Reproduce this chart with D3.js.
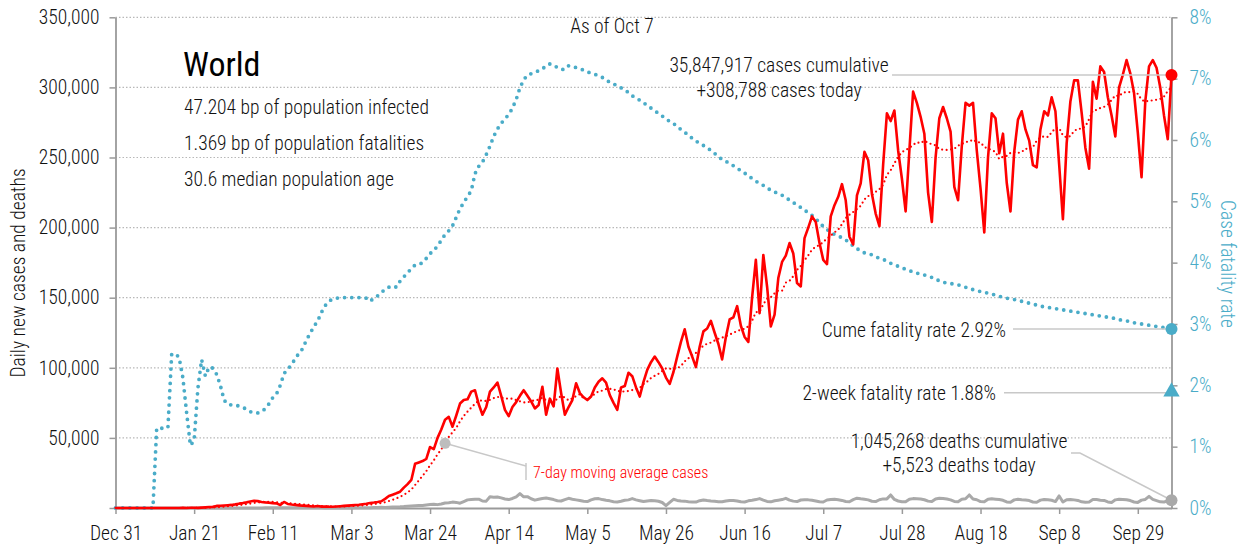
<!DOCTYPE html>
<html>
<head>
<meta charset="utf-8">
<script src="https://cdn.jsdelivr.net/npm/d3@7"></script>
<style>
body { margin: 0; background: #fff; }
text { font-family: "Roboto Condensed", Roboto, sans-serif; font-stretch: condensed; font-weight: 300; fill: #111; }
</style>
</head>
<body>
<div id="chart"></div>
<script>
// one value per day, starting Dec 31
var startDate = "2019-12-31";

var cases = [
  27, 0, 0, 17, 0, 15, 0, 0, 0, 0,
  0, 0, 0, 1, 1, 0, 4, 17, 136, 19,
  150, 140, 100, 270, 450, 680, 800, 1500, 1600, 1800,
  2000, 2200, 2600, 3100, 3500, 4000, 4600, 5200, 4900, 4300,
  4000, 3800, 3500, 3300, 2100, 4300, 2900, 2500, 2200, 1900,
  1700, 1500, 1300, 1100, 1400, 1000, 1100, 950, 900, 1100,
  1300, 1500, 1700, 1900, 2100, 2300, 2700, 3000, 3600, 3900,
  4300, 4800, 6500, 8500, 9500, 10500, 11600, 14500, 17000, 20000,
  31500, 32500, 33500, 35000, 43500, 42000, 50000, 56000, 63000, 65000,
  58000, 66000, 74500, 77000, 77500, 83000, 84000, 74000, 66500, 72000,
  83000, 86000, 89500, 80000, 70000, 65500, 72000, 75500, 80000, 84000,
  80000, 76000, 71000, 73500, 86500, 66500, 78000, 72500, 99500, 82000,
  66500, 72000, 77000, 89000, 82000, 79000, 77000, 79500, 86000, 90000,
  92500, 89500, 80500, 75000, 70000, 86000, 87000, 96500, 94000, 86000,
  79500, 90000, 98500, 104000, 108000, 104000, 99500, 93000, 88500, 97000,
  108000, 118500, 127500, 115000, 108000, 100500, 115000, 126000, 128000, 133500,
  125000, 117000, 106000, 122000, 134500, 136000, 144000, 130000, 122000, 118500,
  150000, 177000, 139000, 180500, 158000, 129500, 138000, 164000, 175500, 180000,
  189000, 181500, 160500, 158000, 192500, 200000, 208000, 204000, 189000, 177000,
  174000, 208000, 216000, 222000, 231000, 219500, 193500, 188000, 223000, 231500,
  254000, 248000, 224000, 210000, 201000, 245000, 281500, 276000, 283500, 255000,
  235000, 211500, 255000, 297000, 289000, 279000, 267000, 225000, 204000, 250000,
  278000, 286000, 278000, 268500, 229000, 219500, 258000, 289000, 287000, 289000,
  255000, 228000, 196500, 250000, 281500, 278000, 253000, 267000, 232000, 211500,
  254000, 277000, 283000, 270000, 262000, 244500, 243000, 270000, 283000, 280000,
  293000, 283000, 245000, 206000, 260000, 290000, 305000, 305000, 282000, 257000,
  242000, 304000, 292000, 315000, 311000, 293000, 280000, 265000, 300000, 309000,
  319500, 310000, 296000, 268000, 236000, 290000, 315000, 319500, 314000, 300000,
  280000, 263000, 308788
];

var deaths = [
  0, 0, 0, 0, 0, 0, 0, 0, 0, 0,
  0, 1, 0, 0, 0, 0, 0, 0, 1, 0,
  3, 6, 9, 8, 16, 15, 24, 26, 26, 38,
  43, 46, 45, 57, 64, 66, 73, 73, 86, 89,
  97, 108, 97, 254, 121, 143, 143, 142, 105, 98,
  136, 115, 118, 109, 97, 150, 71, 52, 29, 44,
  37, 68, 70, 80, 94, 110, 150, 200, 225, 320,
  350, 450, 410, 560, 720, 800, 860, 1020, 1250, 1500,
  1650, 1700, 1750, 2200, 2450, 2750, 2400, 2900, 3600, 3800,
  4200, 4000, 3400, 4600, 5800, 6100, 6300, 6300, 5000, 4900,
  8000, 7600, 7800, 7200, 6400, 6000, 6800, 8000, 10300, 8000,
  8100, 6600, 5600, 6200, 6800, 7100, 6600, 6000, 5200, 5000,
  6000, 6900, 6300, 5800, 5300, 4800, 4600, 5800, 6600, 6700,
  6000, 5500, 5100, 4500, 4300, 4800, 5500, 5800, 6700, 5800,
  5200, 4600, 5000, 5300, 5200, 4800, 3900, 1700, 4000, 6200,
  5400, 5000, 4900, 4500, 4300, 4200, 5200, 5700, 5300, 5000,
  4800, 4500, 4400, 5000, 5400, 5300, 5000, 4400, 4300, 5100,
  5500, 6000, 6700, 5600, 4700, 4400, 5200, 5600, 6000, 6900,
  5600, 4900, 4600, 5700, 5900, 5800, 5500, 5000, 4400, 4300,
  5700, 6100, 6200, 5900, 5400, 4600, 4500, 6000, 7000, 6600,
  6300, 5800, 4800, 4600, 5900, 6500, 6500, 9300, 6100, 5000,
  4500, 4400, 6200, 6700, 6600, 6400, 5900, 4900, 4600, 6400,
  6900, 6800, 6400, 5800, 4700, 4500, 6300, 6600, 9300, 6400,
  5900, 4600, 4400, 6300, 6600, 6300, 6000, 5500, 4300, 4100,
  5800, 6200, 5900, 5700, 5300, 4300, 4100, 5600, 6100, 5900,
  5500, 4600, 8600, 4300, 5900, 6100, 5800, 5400, 4400, 4100,
  4300, 6000, 6000, 5600, 5400, 4300, 4000, 5800, 6300, 6100,
  5900, 5300, 4300, 4000, 5600, 6100, 8300, 6200, 5300, 4400,
  4300, 5100, 5523
];

// cumulative case fatality rate, percent
var cfr = [
  0, 0, 0, 0, 0, 0, 0, 0, 0, 0,
  0, 1.30, 1.30, 1.30, 1.31, 2.50, 2.52, 2.45, 2.12, 1.55,
  1.02, 1.10, 1.95, 2.42, 2.15, 2.30, 2.28, 2.18, 2.00, 1.76,
  1.69, 1.68, 1.68, 1.66, 1.64, 1.61, 1.57, 1.55, 1.55, 1.57,
  1.62, 1.70, 1.80, 1.86, 2.00, 2.19, 2.27, 2.33, 2.44, 2.52,
  2.60, 2.74, 2.85, 2.96, 3.05, 3.19, 3.30, 3.37, 3.41, 3.42,
  3.43, 3.43, 3.43, 3.43, 3.43, 3.43, 3.43, 3.42, 3.37, 3.42,
  3.46, 3.51, 3.57, 3.60, 3.62, 3.60, 3.70, 3.77, 3.83, 3.91,
  3.96, 3.97, 4.00, 4.07, 4.15, 4.19, 4.28, 4.36, 4.46, 4.52,
  4.60, 4.74, 4.88, 4.98, 5.08, 5.17, 5.45, 5.57, 5.64, 5.76,
  5.90, 6.06, 6.18, 6.27, 6.35, 6.41, 6.52, 6.66, 6.85, 6.98,
  7.06, 7.08, 7.10, 7.13, 7.17, 7.19, 7.24, 7.22, 7.18, 7.15,
  7.15, 7.21, 7.20, 7.18, 7.16, 7.14, 7.11, 7.09, 7.07, 7.05,
  7.02, 6.98, 6.94, 6.91, 6.89, 6.85, 6.82, 6.77, 6.72, 6.68,
  6.65, 6.61, 6.56, 6.52, 6.48, 6.43, 6.39, 6.35, 6.30, 6.27,
  6.22, 6.17, 6.13, 6.07, 6.03, 5.98, 5.95, 5.91, 5.87, 5.83,
  5.78, 5.73, 5.68, 5.65, 5.62, 5.58, 5.54, 5.50, 5.46, 5.42,
  5.37, 5.33, 5.29, 5.26, 5.22, 5.18, 5.15, 5.13, 5.10, 5.06,
  5.02, 4.98, 4.94, 4.90, 4.86, 4.81, 4.77, 4.72, 4.65, 4.59,
  4.54, 4.50, 4.46, 4.43, 4.41, 4.37, 4.33, 4.27, 4.23, 4.19,
  4.16, 4.14, 4.13, 4.10, 4.07, 4.05, 4.03, 3.99, 3.97, 3.94,
  3.92, 3.89, 3.87, 3.85, 3.83, 3.81, 3.80, 3.78, 3.76, 3.74,
  3.70, 3.68, 3.67, 3.66, 3.65, 3.64, 3.62, 3.60, 3.58, 3.56,
  3.54, 3.53, 3.52, 3.50, 3.49, 3.47, 3.45, 3.44, 3.42, 3.41,
  3.40, 3.38, 3.37, 3.35, 3.34, 3.32, 3.31, 3.29, 3.28, 3.27,
  3.26, 3.25, 3.24, 3.23, 3.22, 3.21, 3.20, 3.19, 3.18, 3.17,
  3.16, 3.15, 3.14, 3.13, 3.12, 3.11, 3.10, 3.09, 3.07, 3.06,
  3.05, 3.04, 3.02, 3.01, 3.00, 2.99, 2.98, 2.97, 2.96, 2.95,
  2.94, 2.93, 2.92
];

var twoWeekRate = 1.88;

var xTickDates = ["2019-12-31", "2020-01-21", "2020-02-11", "2020-03-03", "2020-03-24", "2020-04-14",
  "2020-05-05", "2020-05-26", "2020-06-16", "2020-07-07", "2020-07-28", "2020-08-18", "2020-09-08", "2020-09-29"];
var leftTicks = [0, 50000, 100000, 150000, 200000, 250000, 300000, 350000];
var rightTicks = [0, 1, 2, 3, 4, 5, 6, 7, 8];

var place = "World";
var infoLines = ["47.204 bp of population infected", "1.369 bp of population fatalities", "30.6 median population age"];
var asOf = "As of Oct 7";
var caseNotes = ["35,847,917 cases cumulative", "+308,788 cases today"];
var deathNotes = ["1,045,268 deaths cumulative", "+5,523 deaths today"];

var svgWidth = 1240;
var svgHeight = 546;
var margin = { top: 17.3, right: 68.5, bottom: 38, left: 115.5 };
var width = svgWidth - margin.left - margin.right;
var height = svgHeight - margin.top - margin.bottom;

var red = "#ff0000";
var blue = "#4aacc8";
var gray = "#a9a9a9";
var fs = 19.5;

var svg = d3.select("#chart").append("svg")
  .attr("width", svgWidth)
  .attr("height", svgHeight);

var chart = svg.append("g")
  .attr("transform", `translate(${margin.left}, ${margin.top})`);

var parse = d3.timeParse("%Y-%m-%d");
var t0 = parse(startDate);
var dates = cases.map((v, i) => d3.timeDay.offset(t0, i));
var last = dates.length - 1;

// 7-day trailing average of the daily cases
var avg = cases.map((v, i) => d3.mean(cases.slice(Math.max(0, i - 6), i + 1)));

var x = d3.scaleTime().domain([dates[0], dates[last]]).range([0, width]);
var yL = d3.scaleLinear().domain([0, 350000]).range([height, 0]);
var yR = d3.scaleLinear().domain([0, 8]).range([height, 0]);

// grid
chart.append("g").selectAll("line")
  .data(leftTicks.filter(d => d > 0)).enter()
  .append("line")
  .attr("x1", 0).attr("x2", width)
  .attr("y1", d => yL(d)).attr("y2", d => yL(d))
  .attr("stroke", "#b8b8b8")
  .attr("stroke-width", 1.2)
  .attr("stroke-dasharray", "1.5 2");

// axes
var leftAxis = d3.axisLeft(yL).tickValues(leftTicks).tickSize(6).tickSizeOuter(0).tickPadding(10)
  .tickFormat(d => d === 0 ? "" : d3.format(",")(d));
var gl = chart.append("g").call(leftAxis);

var rightAxis = d3.axisRight(yR).tickValues(rightTicks).tickSize(6).tickSizeOuter(0).tickPadding(12)
  .tickFormat(d => d + "%");
var gr = chart.append("g").attr("transform", `translate(${width}, 0)`).call(rightAxis);

var bottomAxis = d3.axisBottom(x).tickValues(xTickDates.map(parse)).tickSize(6).tickSizeOuter(0).tickPadding(12)
  .tickFormat(d3.timeFormat("%b %-d"));
var gb = chart.append("g").attr("transform", `translate(0, ${height})`).call(bottomAxis);

[gl, gr, gb].forEach(function(g) {
  g.select(".domain").attr("stroke", "#9a9a9a").attr("stroke-width", 1.8);
  g.selectAll(".tick line").attr("stroke", "#9a9a9a").attr("stroke-width", 1.5);
  g.selectAll("text").style("font-size", fs + "px").style("font-family", null);
});
gr.selectAll("text").style("fill", blue);
gl.selectAll("text").style("fill", "#111");
gb.selectAll("text").style("fill", "#111");

// axis titles
svg.append("text")
  .text("Daily new cases and deaths")
  .attr("transform", "rotate(-90)")
  .attr("x", -273)
  .attr("y", 25)
  .attr("text-anchor", "middle")
  .style("font-size", fs + "px");

svg.append("text")
  .text("Case fatality rate")
  .attr("transform", "rotate(90)")
  .attr("x", 264)
  .attr("y", -1221)
  .attr("text-anchor", "middle")
  .style("font-size", fs + "px")
  .style("fill", blue);

// lines
var cfrLine = d3.line().x((d, i) => x(dates[i])).y(d => yR(d));
var leftLine = d3.line().x((d, i) => x(dates[i])).y(d => yL(d));

chart.append("path")
  .datum(deaths)
  .attr("fill", "none")
  .attr("stroke", gray)
  .attr("stroke-width", 3)
  .attr("stroke-linejoin", "round")
  .attr("d", leftLine);

chart.append("path")
  .datum(cfr)
  .attr("fill", "none")
  .attr("stroke", blue)
  .attr("stroke-width", 3.8)
  .attr("stroke-linecap", "round")
  .attr("stroke-dasharray", "0 7.2")
  .attr("d", cfrLine);

chart.append("path")
  .datum(avg)
  .attr("fill", "none")
  .attr("stroke", red)
  .attr("stroke-width", 2.2)
  .attr("stroke-linecap", "round")
  .attr("stroke-dasharray", "0 4.5")
  .attr("d", leftLine);

chart.append("path")
  .datum(cases)
  .attr("fill", "none")
  .attr("stroke", red)
  .attr("stroke-width", 2.6)
  .attr("stroke-linejoin", "round")
  .attr("d", leftLine);

// end markers and leaders
var ex = margin.left + x(dates[last]);
var caseY = margin.top + yL(cases[last]);
var deathY = margin.top + yL(deaths[last]);
var cumeY = margin.top + yR(cfr[last]);
var twoY = margin.top + yR(twoWeekRate);

var leaders = svg.append("g")
  .attr("fill", "none")
  .attr("stroke", "#c8c8c8")
  .attr("stroke-width", 1.5);

leaders.append("line").attr("x1", 892).attr("y1", caseY).attr("x2", ex).attr("y2", caseY);
leaders.append("line").attr("x1", 1013).attr("y1", cumeY).attr("x2", ex).attr("y2", cumeY);
leaders.append("line").attr("x1", 1004).attr("y1", twoY).attr("x2", ex).attr("y2", twoY);
leaders.append("polyline").attr("points", `1071,453 1080,453 ${ex},${deathY}`);

var avgDay = 88;
var ax = margin.left + x(dates[avgDay]);
var ay = margin.top + yL(avg[avgDay]);
leaders.append("line").attr("x1", ax).attr("y1", ay).attr("x2", 526).attr("y2", 466);
leaders.append("line").attr("x1", 526).attr("y1", 463).attr("x2", 526).attr("y2", 480);

svg.append("circle").attr("cx", ax).attr("cy", ay).attr("r", 5.5).attr("fill", "#bdbdbd");

svg.append("circle").attr("cx", ex).attr("cy", caseY).attr("r", 6).attr("fill", red);
svg.append("circle").attr("cx", ex).attr("cy", cumeY).attr("r", 6).attr("fill", blue);
svg.append("circle").attr("cx", ex).attr("cy", deathY).attr("r", 6).attr("fill", gray);
svg.append("path")
  .attr("d", d3.symbol().type(d3.symbolTriangle).size(115))
  .attr("transform", `translate(${ex}, ${twoY - 1})`)
  .attr("fill", blue);

// text
svg.append("text").text(asOf)
  .attr("x", 612).attr("y", 33)
  .attr("text-anchor", "middle")
  .style("font-size", fs + "px");

svg.append("text").text(place)
  .attr("x", 183).attr("y", 76)
  .style("font-size", "34px")
  .style("font-weight", 400)
  .style("fill", "#000");

svg.append("g").selectAll("text")
  .data(infoLines).enter()
  .append("text")
  .text(d => d)
  .attr("x", 184)
  .attr("y", (d, i) => 114 + i * 36)
  .style("font-size", fs + "px");

svg.append("g").selectAll("text")
  .data(caseNotes).enter()
  .append("text")
  .text(d => d)
  .attr("x", 779)
  .attr("y", (d, i) => 72 + i * 25)
  .attr("text-anchor", "middle")
  .style("font-size", fs + "px");

svg.append("g").selectAll("text")
  .data(deathNotes).enter()
  .append("text")
  .text(d => d)
  .attr("x", 959)
  .attr("y", (d, i) => 448 + i * 24)
  .attr("text-anchor", "middle")
  .style("font-size", fs + "px");

svg.append("text").text("Cume fatality rate " + cfr[last].toFixed(2) + "%")
  .attr("x", 1006).attr("y", 337)
  .attr("text-anchor", "end")
  .style("font-size", fs + "px");

svg.append("text").text("2-week fatality rate " + twoWeekRate.toFixed(2) + "%")
  .attr("x", 996).attr("y", 400)
  .attr("text-anchor", "end")
  .style("font-size", fs + "px");

svg.append("text").text("7-day moving average cases")
  .attr("x", 533).attr("y", 478)
  .style("font-size", "16px")
  .style("fill", red);
</script>
</body>
</html>
